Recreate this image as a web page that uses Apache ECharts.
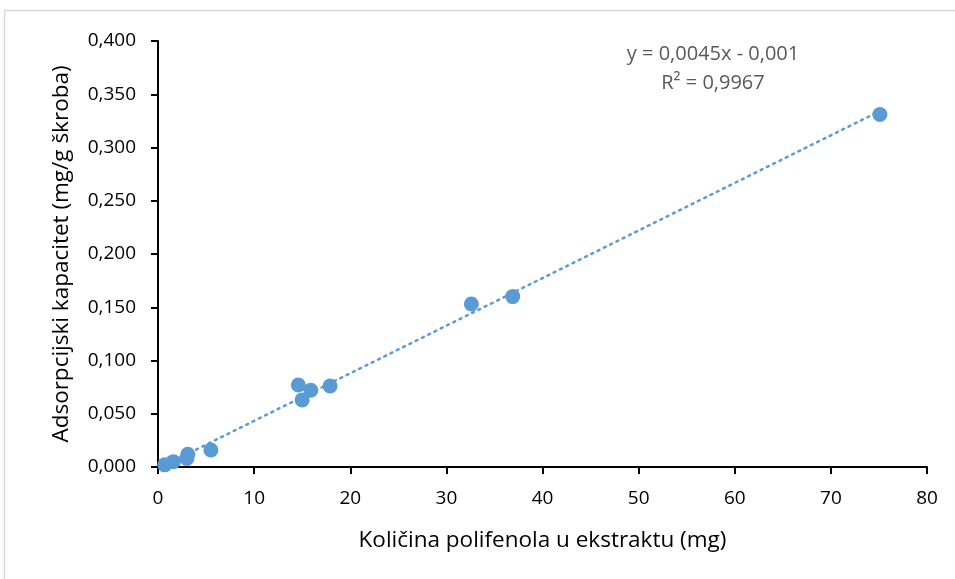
<!DOCTYPE html>
<html><head><meta charset="utf-8">
<script src="https://cdn.jsdelivr.net/npm/echarts@6/dist/echarts.min.js"></script>
<style>html,body{margin:0;padding:0;background:#fff}#c{width:955px;height:579px}</style>
</head><body><div id="c"></div>
<script>
const polyphenolMg = [0.7, 1.6, 3.0, 3.1, 5.5, 14.6, 15.0, 15.9, 17.9, 32.6, 36.9, 75.1];
const adsorption   = [0.002, 0.005, 0.008, 0.012, 0.016, 0.077, 0.063, 0.072, 0.076, 0.153, 0.160, 0.331];
const xTicks = [0, 10, 20, 30, 40, 50, 60, 70, 80];
const yTicks = [0, 0.05, 0.1, 0.15, 0.2, 0.25, 0.3, 0.35, 0.4];
const equationText = 'y = 0,0045x - 0,001';
const r2Text = 'R² = 0,9967';
const xTitle = 'Količina polifenola u ekstraktu (mg)';
const yTitle = 'Adsorpcijski kapacitet (mg/g škroba)';

// least-squares trendline from the data
const n = polyphenolMg.length;
let sx=0, sy=0, sxx=0, sxy=0;
for (let i=0;i<n;i++){sx+=polyphenolMg[i];sy+=adsorption[i];sxx+=polyphenolMg[i]*polyphenolMg[i];sxy+=polyphenolMg[i]*adsorption[i];}
const slope=(n*sxy-sx*sy)/(n*sxx-sx*sx), icpt=(sy-slope*sx)/n;
const xmin=Math.min(...polyphenolMg), xmax=Math.max(...polyphenolMg);
const trend=[[xmin,slope*xmin+icpt],[xmax,slope*xmax+icpt]];

const font = '"Open Sans", sans-serif';
const chart = echarts.init(document.getElementById('c'));
chart.setOption({
  animation:false,
  graphic:[{type:'rect',shape:{x:4.5,y:10.5,width:1000,height:1000},style:{fill:'none',stroke:'#d9d9d9',lineWidth:1.5}},
    {type:'text',x:713,y:40,style:{text:equationText+'\n'+r2Text,align:'center',fill:'#595959',font:'20px '+font,lineHeight:29}}],
  grid:{left:158,right:28,top:41,bottom:112},
  xAxis:{type:'value',min:0,max:80,interval:10,
    axisLine:{lineStyle:{color:'#000',width:2}},axisTick:{show:true,length:7,lineStyle:{color:'#000',width:2}},
    splitLine:{show:false},
    axisLabel:{color:'#000',fontSize:19,fontFamily:font,margin:22,formatter:v=>xTicks.includes(v)?String(v):''},
    name:xTitle,nameLocation:'middle',nameGap:62,nameTextStyle:{color:'#000',fontSize:22.5,fontFamily:font}},
  yAxis:{type:'value',min:0,max:0.4,interval:0.05,
    axisLine:{show:true,lineStyle:{color:'#000',width:2}},axisTick:{show:true,length:7,lineStyle:{color:'#000',width:2}},
    splitLine:{show:false},
    axisLabel:{color:'#000',fontSize:19,fontFamily:font,margin:22,formatter:v=>{const t=yTicks.find(q=>Math.abs(q-v)<1e-9);return t===undefined?'':t.toFixed(3).replace('.',',');}},
    name:yTitle,nameLocation:'middle',nameGap:85,nameTextStyle:{color:'#000',fontSize:22.5,fontFamily:font}},
  series:[
    {type:'line',data:trend,symbol:'none',lineStyle:{color:'#5b9bd5',width:2.5,type:[2,5],cap:'round'},z:1},
    {type:'scatter',data:polyphenolMg.map((x,i)=>[x,adsorption[i]]),symbolSize:15,itemStyle:{color:'#5b9bd5',opacity:1},z:2}
  ]
});
</script></body></html>
